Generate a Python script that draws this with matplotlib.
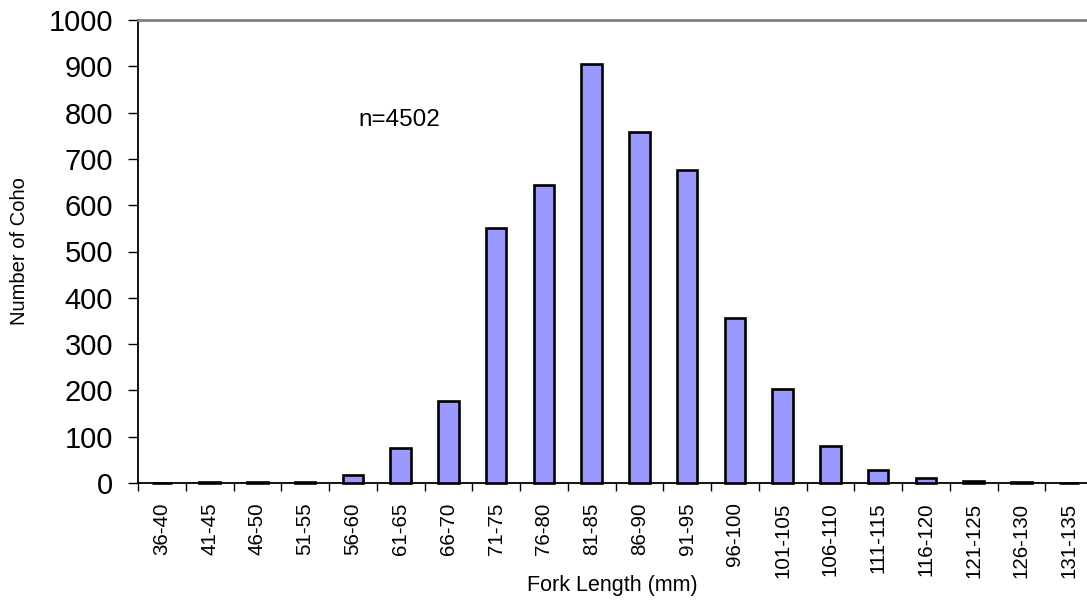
import matplotlib
matplotlib.use("Agg")
import matplotlib.pyplot as plt
import numpy as np

plt.rcParams['font.family'] = ['Liberation Sans', 'DejaVu Sans']

# Fork length classes (mm) and counts of coho in each class
length_classes = ["36-40", "41-45", "46-50", "51-55", "56-60", "61-65", "66-70",
                  "71-75", "76-80", "81-85", "86-90", "91-95", "96-100", "101-105",
                  "106-110", "111-115", "116-120", "121-125", "126-130", "131-135"]
coho_counts = [1, 3, 3, 2, 17, 75, 178, 551, 644, 905, 758, 675, 357, 204,
               80, 27, 11, 4, 2, 1]
y_ticks = [0, 100, 200, 300, 400, 500, 600, 700, 800, 900, 1000]
sample_note = "n=4502"

W, H = 1087, 601
ax_left, ax_right, ax_top, ax_bottom = 138, 1093, 20, 483
fig = plt.figure(figsize=(W / 100, H / 100), dpi=100)
ax = fig.add_axes([ax_left / W, 1 - ax_bottom / H,
                   (ax_right - ax_left) / W, (ax_bottom - ax_top) / H])

x = np.arange(len(length_classes))
bars = ax.bar(x, coho_counts, width=0.43, color="#9999FF", edgecolor="black",
              linewidth=1.9, zorder=3)
for b in bars:
    b.set_clip_on(False)

ax.set_xlim(-0.5, len(length_classes) - 0.5)
ax.set_ylim(0, 1000)
ax.set_yticks(y_ticks)
ax.tick_params(axis="y", labelsize=21, length=7, width=1.0, pad=11, direction="out")

ax.set_xticks(x)
ax.set_xticklabels(length_classes, rotation=90, fontsize=14.8)
ax.tick_params(axis="x", which="major", length=0, pad=14)
ax.set_xticks(np.arange(-0.5, len(length_classes)), minor=True)
ax.tick_params(axis="x", which="minor", length=6, width=1.0, direction="out")

for side in ("left", "bottom"):
    ax.spines[side].set_color("black")
    ax.spines[side].set_linewidth(1.3)
ax.spines["top"].set_color("#808080")
ax.spines["top"].set_linewidth(2)
ax.spines["right"].set_visible(False)

ax_w = ax_right - ax_left
ax_h = ax_bottom - ax_top
ax.set_xlabel("Fork Length (mm)", fontsize=15.5)
ax.xaxis.set_label_coords((612 - ax_left) / ax_w, -(575 - ax_bottom) / ax_h)
ax.set_ylabel("Number of Coho", fontsize=14.5)
ax.yaxis.set_label_coords((29 - ax_left) / ax_w, 0.5)

ax.text(4.98, 784, sample_note, fontsize=17.5, ha="center", va="center")

fig.savefig("out.png", dpi=100)
